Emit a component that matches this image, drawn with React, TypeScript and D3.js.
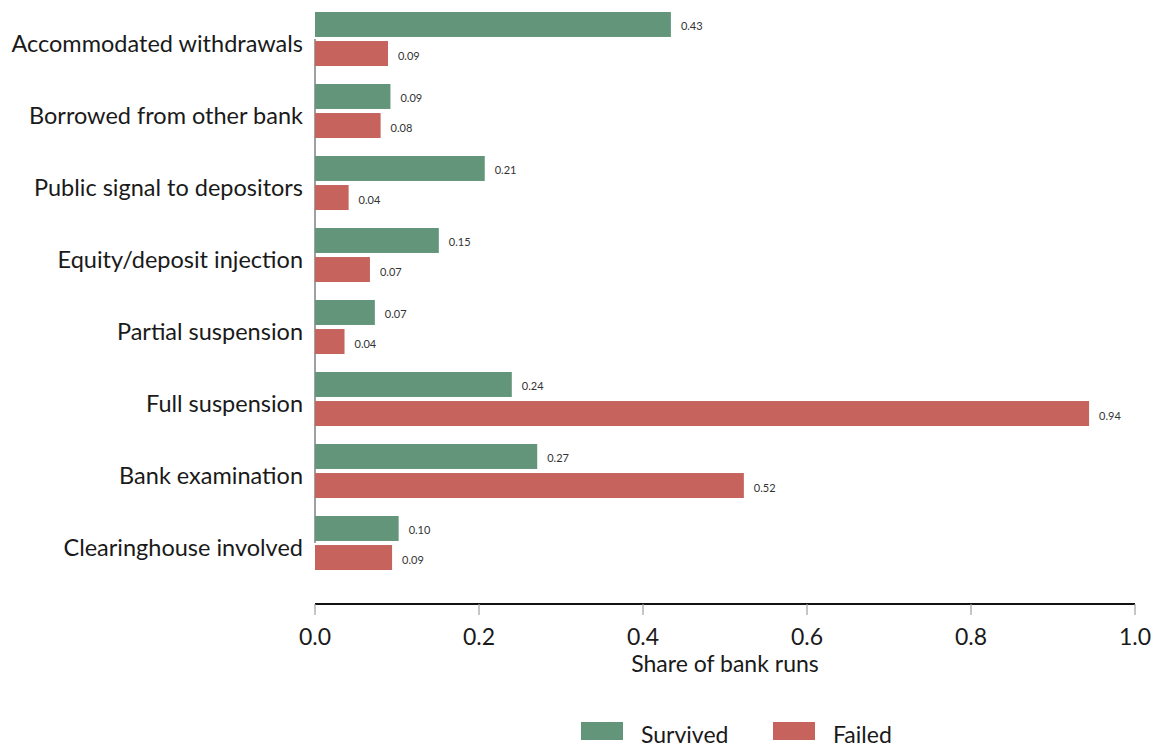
import React from "react";
import * as d3 from "d3";

const categories = [
  "Accommodated withdrawals",
  "Borrowed from other bank",
  "Public signal to depositors",
  "Equity/deposit injection",
  "Partial suspension",
  "Full suspension",
  "Bank examination",
  "Clearinghouse involved",
];
const seriesNames = ["Survived", "Failed"];
const survived = [0.434, 0.092, 0.207, 0.151, 0.073, 0.24, 0.271, 0.102];
const failed = [0.089, 0.08, 0.041, 0.067, 0.036, 0.944, 0.523, 0.094];
const xTicks = [0, 0.2, 0.4, 0.6, 0.8, 1.0];
const colors = ["#63957a", "#c5635c"];

const W = 1157;
const H = 751;
const FONT = "Lato, 'Noto Sans', sans-serif";

export default function App() {
  const x = d3.scaleLinear().domain([0, 1]).range([315, 1135]);
  const y = d3
    .scaleBand<string>()
    .domain(categories)
    .range([3, 579])
    .paddingInner(0.25)
    .paddingOuter(0.125);
  const inner = d3
    .scaleBand<string>()
    .domain(seriesNames)
    .range([0, y.bandwidth()])
    .paddingInner(0.14);
  const fmt = d3.format(".2f");
  const series = [survived, failed];
  const axisY = 604;
  const yFirst = (y(categories[0]) as number) + y.bandwidth() / 2;
  const yLast = (y(categories[categories.length - 1]) as number) + y.bandwidth() / 2;

  return (
    <div style={{ position: "fixed", left: 0, top: 0 }}>
      <svg width={W} height={H} style={{ display: "block", background: "#fff" }}>
        {/* y axis line */}
        <line x1={x(0)} x2={x(0)} y1={yFirst} y2={yLast} stroke="#a0a0a0" strokeWidth={2} />
        {categories.map((c, i) => (
          <g key={c}>
            <text
              x={303}
              y={(y(c) as number) + y.bandwidth() / 2 + 13}
              textAnchor="end"
              fontFamily={FONT}
              fontSize={23.5}
              fill="#1a1a1a"
            >
              {c}
            </text>
            {seriesNames.map((s, j) => {
              const v = series[j][i];
              const by = (y(c) as number) + (inner(s) as number);
              return (
                <g key={s}>
                  <rect
                    x={x(0)}
                    y={by}
                    width={x(v) - x(0)}
                    height={inner.bandwidth()}
                    fill={colors[j]}
                  />
                  <text
                    x={x(v) + 10}
                    y={by + inner.bandwidth() / 2 + 6}
                    fontFamily={FONT}
                    fontSize={11}
                    fill="#333"
                  >
                    {fmt(v)}
                  </text>
                </g>
              );
            })}
          </g>
        ))}
        {/* x axis */}
        <line x1={x(0)} x2={x(1)} y1={axisY} y2={axisY} stroke="#111" strokeWidth={2} />
        {xTicks.map((t) => (
          <g key={t}>
            <line x1={x(t)} x2={x(t)} y1={axisY} y2={axisY + 11} stroke="#a0a0a0" strokeWidth={1.2} />
            <text
              x={x(t)}
              y={645}
              textAnchor="middle"
              fontFamily={FONT}
              fontSize={23}
              fill="#1a1a1a"
            >
              {d3.format(".1f")(t)}
            </text>
          </g>
        ))}
        <text
          x={(x(0) + x(1)) / 2}
          y={672}
          textAnchor="middle"
          fontFamily={FONT}
          fontSize={23}
          fill="#1a1a1a"
        >
          Share of bank runs
        </text>
        {/* legend */}
        {seriesNames.map((s, j) => {
          const lx = [581, 773][j];
          return (
            <g key={s}>
              <rect x={lx} y={722} width={42} height={18} fill={colors[j]} />
              <text x={lx + 60} y={743} fontFamily={FONT} fontSize={23} fill="#1a1a1a">
                {s}
              </text>
            </g>
          );
        })}
      </svg>
    </div>
  );
}
